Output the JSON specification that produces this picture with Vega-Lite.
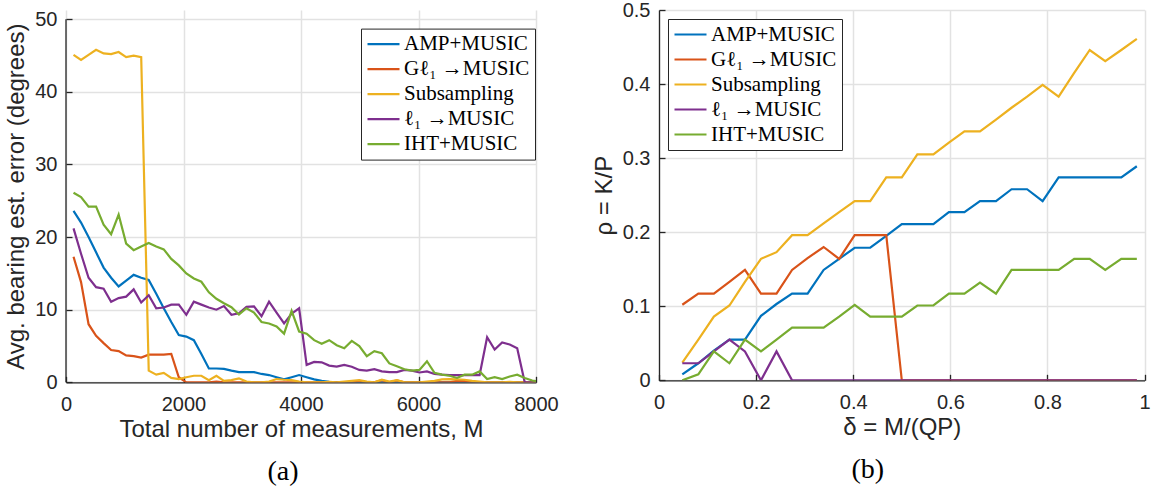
{
  "$schema": "https://vega.github.io/schema/vega-lite/v6.json",
  "background": "white",
  "padding": {"left": 4, "top": 0, "right": 5, "bottom": 2},
  "spacing": 33,
  "config": {
    "view": {"stroke": null},
    "font": "Liberation Sans",
    "axis": {
      "labelFont": "Liberation Sans", "labelFontSize": 20, "labelColor": "#262626",
      "titleFont": "Liberation Sans", "titleFontSize": 24, "titleFontWeight": "normal", "titleColor": "#262626",
      "domainColor": "#262626", "domainWidth": 1.3, "tickColor": "#262626", "tickWidth": 1.3, "tickSize": -6,
      "gridColor": "#e2e2e2", "gridWidth": 1.5, "gridOpacity": 1,
      "labelFlush": false, "labelOverlap": false
    },
    "axisX": {"labelPadding": 18, "titlePadding": 3},
    "axisY": {"labelPadding": 15, "titlePadding": 6},
    "legend": {
      "labelFont": "Liberation Serif", "labelFontSize": 21, "labelColor": "#000000",
      "symbolType": "stroke", "symbolSize": 1024, "symbolStrokeWidth": 2.2, "clipHeight": 21,
      "strokeColor": "#262626", "fillColor": "white", "padding": 5, "rowPadding": 3,
      "labelOffset": 3, "labelLimit": 300, "cornerRadius": 0
    }
  },
  "resolve": {"scale": {"color": "independent"}, "legend": {"color": "independent"}},
  "datasets": {
    "left": [
      {"s":"AMP+MUSIC","M":128,"e":23.6},{"s":"AMP+MUSIC","M":256,"e":22.0},{"s":"AMP+MUSIC","M":384,"e":20.0},{"s":"AMP+MUSIC","M":512,"e":17.9},{"s":"AMP+MUSIC","M":640,"e":15.8},{"s":"AMP+MUSIC","M":768,"e":14.4},{"s":"AMP+MUSIC","M":896,"e":13.2},{"s":"AMP+MUSIC","M":1024,"e":14.0},{"s":"AMP+MUSIC","M":1152,"e":14.8},{"s":"AMP+MUSIC","M":1280,"e":14.4},
      {"s":"AMP+MUSIC","M":1408,"e":14.1},{"s":"AMP+MUSIC","M":1536,"e":12.2},{"s":"AMP+MUSIC","M":1664,"e":10.2},{"s":"AMP+MUSIC","M":1792,"e":8.3},{"s":"AMP+MUSIC","M":1920,"e":6.5},{"s":"AMP+MUSIC","M":2048,"e":6.3},{"s":"AMP+MUSIC","M":2176,"e":5.8},{"s":"AMP+MUSIC","M":2304,"e":3.9},{"s":"AMP+MUSIC","M":2432,"e":1.9},{"s":"AMP+MUSIC","M":2560,"e":1.9},
      {"s":"AMP+MUSIC","M":2688,"e":1.85},{"s":"AMP+MUSIC","M":2816,"e":1.6},{"s":"AMP+MUSIC","M":2944,"e":1.4},{"s":"AMP+MUSIC","M":3072,"e":1.4},{"s":"AMP+MUSIC","M":3200,"e":1.4},{"s":"AMP+MUSIC","M":3328,"e":1.15},{"s":"AMP+MUSIC","M":3456,"e":1.0},{"s":"AMP+MUSIC","M":3584,"e":0.7},{"s":"AMP+MUSIC","M":3712,"e":0.4},{"s":"AMP+MUSIC","M":3840,"e":0.7},
      {"s":"AMP+MUSIC","M":3968,"e":1.0},{"s":"AMP+MUSIC","M":4096,"e":0.7},{"s":"AMP+MUSIC","M":4224,"e":0.4},{"s":"AMP+MUSIC","M":4352,"e":0.2},{"s":"AMP+MUSIC","M":4480,"e":0.05},{"s":"AMP+MUSIC","M":4608,"e":0},{"s":"AMP+MUSIC","M":4736,"e":0},{"s":"AMP+MUSIC","M":4864,"e":0},{"s":"AMP+MUSIC","M":4992,"e":0},{"s":"AMP+MUSIC","M":5120,"e":0},
      {"s":"AMP+MUSIC","M":5248,"e":0},{"s":"AMP+MUSIC","M":5376,"e":0},{"s":"AMP+MUSIC","M":5504,"e":0},{"s":"AMP+MUSIC","M":5632,"e":0},{"s":"AMP+MUSIC","M":5760,"e":0},{"s":"AMP+MUSIC","M":5888,"e":0},{"s":"AMP+MUSIC","M":6016,"e":0},{"s":"AMP+MUSIC","M":6144,"e":0},{"s":"AMP+MUSIC","M":6272,"e":0},{"s":"AMP+MUSIC","M":6400,"e":0},
      {"s":"AMP+MUSIC","M":6528,"e":0},{"s":"AMP+MUSIC","M":6656,"e":0},{"s":"AMP+MUSIC","M":6784,"e":0},{"s":"AMP+MUSIC","M":6912,"e":0},{"s":"AMP+MUSIC","M":7040,"e":0},{"s":"AMP+MUSIC","M":7168,"e":0},{"s":"AMP+MUSIC","M":7296,"e":0},{"s":"AMP+MUSIC","M":7424,"e":0},{"s":"AMP+MUSIC","M":7552,"e":0},{"s":"AMP+MUSIC","M":7680,"e":0},
      {"s":"AMP+MUSIC","M":7808,"e":0},{"s":"AMP+MUSIC","M":7936,"e":0},{"s":"AMP+MUSIC","M":8064,"e":0},

      {"s":"Gℓ₁ →MUSIC","M":128,"e":17.3},{"s":"Gℓ₁ →MUSIC","M":256,"e":13.8},{"s":"Gℓ₁ →MUSIC","M":384,"e":8.0},{"s":"Gℓ₁ →MUSIC","M":512,"e":6.4},{"s":"Gℓ₁ →MUSIC","M":640,"e":5.4},{"s":"Gℓ₁ →MUSIC","M":768,"e":4.45},{"s":"Gℓ₁ →MUSIC","M":896,"e":4.3},{"s":"Gℓ₁ →MUSIC","M":1024,"e":3.7},{"s":"Gℓ₁ →MUSIC","M":1152,"e":3.6},{"s":"Gℓ₁ →MUSIC","M":1280,"e":3.4},
      {"s":"Gℓ₁ →MUSIC","M":1408,"e":3.8},{"s":"Gℓ₁ →MUSIC","M":1536,"e":3.8},{"s":"Gℓ₁ →MUSIC","M":1664,"e":3.8},{"s":"Gℓ₁ →MUSIC","M":1792,"e":3.9},{"s":"Gℓ₁ →MUSIC","M":1920,"e":0.7},{"s":"Gℓ₁ →MUSIC","M":2048,"e":0},{"s":"Gℓ₁ →MUSIC","M":2176,"e":0},{"s":"Gℓ₁ →MUSIC","M":2304,"e":0},{"s":"Gℓ₁ →MUSIC","M":2432,"e":0},{"s":"Gℓ₁ →MUSIC","M":2560,"e":0.1},
      {"s":"Gℓ₁ →MUSIC","M":2688,"e":0},{"s":"Gℓ₁ →MUSIC","M":2816,"e":0},{"s":"Gℓ₁ →MUSIC","M":2944,"e":0},{"s":"Gℓ₁ →MUSIC","M":3072,"e":0},{"s":"Gℓ₁ →MUSIC","M":3200,"e":0},{"s":"Gℓ₁ →MUSIC","M":3328,"e":0},{"s":"Gℓ₁ →MUSIC","M":3456,"e":0},{"s":"Gℓ₁ →MUSIC","M":3584,"e":0},{"s":"Gℓ₁ →MUSIC","M":3712,"e":0},{"s":"Gℓ₁ →MUSIC","M":3840,"e":0},
      {"s":"Gℓ₁ →MUSIC","M":3968,"e":0},{"s":"Gℓ₁ →MUSIC","M":4096,"e":0},{"s":"Gℓ₁ →MUSIC","M":4224,"e":0},{"s":"Gℓ₁ →MUSIC","M":4352,"e":0},{"s":"Gℓ₁ →MUSIC","M":4480,"e":0},{"s":"Gℓ₁ →MUSIC","M":4608,"e":0},{"s":"Gℓ₁ →MUSIC","M":4736,"e":0},{"s":"Gℓ₁ →MUSIC","M":4864,"e":0},{"s":"Gℓ₁ →MUSIC","M":4992,"e":0.2},{"s":"Gℓ₁ →MUSIC","M":5120,"e":0},
      {"s":"Gℓ₁ →MUSIC","M":5248,"e":0},{"s":"Gℓ₁ →MUSIC","M":5376,"e":0.3},{"s":"Gℓ₁ →MUSIC","M":5504,"e":0},{"s":"Gℓ₁ →MUSIC","M":5632,"e":0.25},{"s":"Gℓ₁ →MUSIC","M":5760,"e":0},{"s":"Gℓ₁ →MUSIC","M":5888,"e":0},{"s":"Gℓ₁ →MUSIC","M":6016,"e":0},{"s":"Gℓ₁ →MUSIC","M":6144,"e":0},{"s":"Gℓ₁ →MUSIC","M":6272,"e":0},{"s":"Gℓ₁ →MUSIC","M":6400,"e":0},
      {"s":"Gℓ₁ →MUSIC","M":6528,"e":0},{"s":"Gℓ₁ →MUSIC","M":6656,"e":0.2},{"s":"Gℓ₁ →MUSIC","M":6784,"e":0.15},{"s":"Gℓ₁ →MUSIC","M":6912,"e":0},{"s":"Gℓ₁ →MUSIC","M":7040,"e":0},{"s":"Gℓ₁ →MUSIC","M":7168,"e":0},{"s":"Gℓ₁ →MUSIC","M":7296,"e":0},{"s":"Gℓ₁ →MUSIC","M":7424,"e":0},{"s":"Gℓ₁ →MUSIC","M":7552,"e":0},{"s":"Gℓ₁ →MUSIC","M":7680,"e":0},
      {"s":"Gℓ₁ →MUSIC","M":7808,"e":0},{"s":"Gℓ₁ →MUSIC","M":7936,"e":0},{"s":"Gℓ₁ →MUSIC","M":8064,"e":0},

      {"s":"Subsampling","M":128,"e":45.1},{"s":"Subsampling","M":256,"e":44.4},{"s":"Subsampling","M":384,"e":45.1},{"s":"Subsampling","M":512,"e":45.8},{"s":"Subsampling","M":640,"e":45.3},{"s":"Subsampling","M":768,"e":45.2},{"s":"Subsampling","M":896,"e":45.5},{"s":"Subsampling","M":1024,"e":44.8},{"s":"Subsampling","M":1152,"e":45.0},{"s":"Subsampling","M":1280,"e":44.8},
      {"s":"Subsampling","M":1408,"e":1.6},{"s":"Subsampling","M":1536,"e":1.05},{"s":"Subsampling","M":1664,"e":1.3},{"s":"Subsampling","M":1792,"e":0.6},{"s":"Subsampling","M":1920,"e":0.45},{"s":"Subsampling","M":2048,"e":0.7},{"s":"Subsampling","M":2176,"e":0.9},{"s":"Subsampling","M":2304,"e":0.9},{"s":"Subsampling","M":2432,"e":0.3},{"s":"Subsampling","M":2560,"e":0.9},
      {"s":"Subsampling","M":2688,"e":0.2},{"s":"Subsampling","M":2816,"e":0.3},{"s":"Subsampling","M":2944,"e":0.55},{"s":"Subsampling","M":3072,"e":0.1},{"s":"Subsampling","M":3200,"e":0},{"s":"Subsampling","M":3328,"e":0},{"s":"Subsampling","M":3456,"e":0.1},{"s":"Subsampling","M":3584,"e":0.45},{"s":"Subsampling","M":3712,"e":0.35},{"s":"Subsampling","M":3840,"e":0.3},
      {"s":"Subsampling","M":3968,"e":0.1},{"s":"Subsampling","M":4096,"e":0},{"s":"Subsampling","M":4224,"e":0},{"s":"Subsampling","M":4352,"e":0},{"s":"Subsampling","M":4480,"e":0.05},{"s":"Subsampling","M":4608,"e":0},{"s":"Subsampling","M":4736,"e":0.1},{"s":"Subsampling","M":4864,"e":0.2},{"s":"Subsampling","M":4992,"e":0.3},{"s":"Subsampling","M":5120,"e":0.1},
      {"s":"Subsampling","M":5248,"e":0},{"s":"Subsampling","M":5376,"e":0.35},{"s":"Subsampling","M":5504,"e":0.1},{"s":"Subsampling","M":5632,"e":0.3},{"s":"Subsampling","M":5760,"e":0},{"s":"Subsampling","M":5888,"e":0},{"s":"Subsampling","M":6016,"e":0},{"s":"Subsampling","M":6144,"e":0.1},{"s":"Subsampling","M":6272,"e":0.2},{"s":"Subsampling","M":6400,"e":0.4},
      {"s":"Subsampling","M":6528,"e":0.45},{"s":"Subsampling","M":6656,"e":0.4},{"s":"Subsampling","M":6784,"e":0.35},{"s":"Subsampling","M":6912,"e":0.2},{"s":"Subsampling","M":7040,"e":0.1},{"s":"Subsampling","M":7168,"e":0},{"s":"Subsampling","M":7296,"e":0},{"s":"Subsampling","M":7424,"e":0},{"s":"Subsampling","M":7552,"e":0.05},{"s":"Subsampling","M":7680,"e":0},
      {"s":"Subsampling","M":7808,"e":0},{"s":"Subsampling","M":7936,"e":0},{"s":"Subsampling","M":8064,"e":0},

      {"s":"ℓ₁ →MUSIC","M":128,"e":21.2},{"s":"ℓ₁ →MUSIC","M":256,"e":17.7},{"s":"ℓ₁ →MUSIC","M":384,"e":14.4},{"s":"ℓ₁ →MUSIC","M":512,"e":13.1},{"s":"ℓ₁ →MUSIC","M":640,"e":12.9},{"s":"ℓ₁ →MUSIC","M":768,"e":11.1},{"s":"ℓ₁ →MUSIC","M":896,"e":11.6},{"s":"ℓ₁ →MUSIC","M":1024,"e":11.8},{"s":"ℓ₁ →MUSIC","M":1152,"e":12.8},{"s":"ℓ₁ →MUSIC","M":1280,"e":11.0},
      {"s":"ℓ₁ →MUSIC","M":1408,"e":12.0},{"s":"ℓ₁ →MUSIC","M":1536,"e":10.2},{"s":"ℓ₁ →MUSIC","M":1664,"e":10.3},{"s":"ℓ₁ →MUSIC","M":1792,"e":10.7},{"s":"ℓ₁ →MUSIC","M":1920,"e":10.7},{"s":"ℓ₁ →MUSIC","M":2048,"e":9.3},{"s":"ℓ₁ →MUSIC","M":2176,"e":11.1},{"s":"ℓ₁ →MUSIC","M":2304,"e":10.7},{"s":"ℓ₁ →MUSIC","M":2432,"e":10.3},{"s":"ℓ₁ →MUSIC","M":2560,"e":10.0},
      {"s":"ℓ₁ →MUSIC","M":2688,"e":10.5},{"s":"ℓ₁ →MUSIC","M":2816,"e":9.3},{"s":"ℓ₁ →MUSIC","M":2944,"e":9.5},{"s":"ℓ₁ →MUSIC","M":3072,"e":10.4},{"s":"ℓ₁ →MUSIC","M":3200,"e":10.45},{"s":"ℓ₁ →MUSIC","M":3328,"e":9.1},{"s":"ℓ₁ →MUSIC","M":3456,"e":11.1},{"s":"ℓ₁ →MUSIC","M":3584,"e":9.6},{"s":"ℓ₁ →MUSIC","M":3712,"e":8.1},{"s":"ℓ₁ →MUSIC","M":3840,"e":9.45},
      {"s":"ℓ₁ →MUSIC","M":3968,"e":10.2},{"s":"ℓ₁ →MUSIC","M":4096,"e":2.4},{"s":"ℓ₁ →MUSIC","M":4224,"e":2.8},{"s":"ℓ₁ →MUSIC","M":4352,"e":2.75},{"s":"ℓ₁ →MUSIC","M":4480,"e":2.3},{"s":"ℓ₁ →MUSIC","M":4608,"e":2.15},{"s":"ℓ₁ →MUSIC","M":4736,"e":2.4},{"s":"ℓ₁ →MUSIC","M":4864,"e":2.15},{"s":"ℓ₁ →MUSIC","M":4992,"e":1.7},{"s":"ℓ₁ →MUSIC","M":5120,"e":1.6},
      {"s":"ℓ₁ →MUSIC","M":5248,"e":1.8},{"s":"ℓ₁ →MUSIC","M":5376,"e":1.5},{"s":"ℓ₁ →MUSIC","M":5504,"e":1.4},{"s":"ℓ₁ →MUSIC","M":5632,"e":1.4},{"s":"ℓ₁ →MUSIC","M":5760,"e":1.7},{"s":"ℓ₁ →MUSIC","M":5888,"e":1.6},{"s":"ℓ₁ →MUSIC","M":6016,"e":1.35},{"s":"ℓ₁ →MUSIC","M":6144,"e":1.5},{"s":"ℓ₁ →MUSIC","M":6272,"e":1.15},{"s":"ℓ₁ →MUSIC","M":6400,"e":1.05},
      {"s":"ℓ₁ →MUSIC","M":6528,"e":1.0},{"s":"ℓ₁ →MUSIC","M":6656,"e":1.0},{"s":"ℓ₁ →MUSIC","M":6784,"e":1.0},{"s":"ℓ₁ →MUSIC","M":6912,"e":1.0},{"s":"ℓ₁ →MUSIC","M":7040,"e":1.0},{"s":"ℓ₁ →MUSIC","M":7168,"e":6.2},{"s":"ℓ₁ →MUSIC","M":7296,"e":4.5},{"s":"ℓ₁ →MUSIC","M":7424,"e":5.5},{"s":"ℓ₁ →MUSIC","M":7552,"e":5.2},{"s":"ℓ₁ →MUSIC","M":7680,"e":4.7},
      {"s":"ℓ₁ →MUSIC","M":7808,"e":0},{"s":"ℓ₁ →MUSIC","M":7936,"e":0},{"s":"ℓ₁ →MUSIC","M":8064,"e":0},

      {"s":"IHT+MUSIC","M":128,"e":26.1},{"s":"IHT+MUSIC","M":256,"e":25.5},{"s":"IHT+MUSIC","M":384,"e":24.2},{"s":"IHT+MUSIC","M":512,"e":24.2},{"s":"IHT+MUSIC","M":640,"e":21.7},{"s":"IHT+MUSIC","M":768,"e":20.4},{"s":"IHT+MUSIC","M":896,"e":23.1},{"s":"IHT+MUSIC","M":1024,"e":19.1},{"s":"IHT+MUSIC","M":1152,"e":18.2},{"s":"IHT+MUSIC","M":1280,"e":18.7},
      {"s":"IHT+MUSIC","M":1408,"e":19.2},{"s":"IHT+MUSIC","M":1536,"e":18.7},{"s":"IHT+MUSIC","M":1664,"e":18.3},{"s":"IHT+MUSIC","M":1792,"e":17.0},{"s":"IHT+MUSIC","M":1920,"e":16.1},{"s":"IHT+MUSIC","M":2048,"e":15.0},{"s":"IHT+MUSIC","M":2176,"e":14.3},{"s":"IHT+MUSIC","M":2304,"e":13.85},{"s":"IHT+MUSIC","M":2432,"e":12.4},{"s":"IHT+MUSIC","M":2560,"e":11.5},
      {"s":"IHT+MUSIC","M":2688,"e":10.9},{"s":"IHT+MUSIC","M":2816,"e":10.35},{"s":"IHT+MUSIC","M":2944,"e":9.35},{"s":"IHT+MUSIC","M":3072,"e":10.2},{"s":"IHT+MUSIC","M":3200,"e":9.6},{"s":"IHT+MUSIC","M":3328,"e":8.3},{"s":"IHT+MUSIC","M":3456,"e":8.1},{"s":"IHT+MUSIC","M":3584,"e":7.7},{"s":"IHT+MUSIC","M":3712,"e":6.7},{"s":"IHT+MUSIC","M":3840,"e":9.85},
      {"s":"IHT+MUSIC","M":3968,"e":7.0},{"s":"IHT+MUSIC","M":4096,"e":6.7},{"s":"IHT+MUSIC","M":4224,"e":5.8},{"s":"IHT+MUSIC","M":4352,"e":5.3},{"s":"IHT+MUSIC","M":4480,"e":5.8},{"s":"IHT+MUSIC","M":4608,"e":5.1},{"s":"IHT+MUSIC","M":4736,"e":4.7},{"s":"IHT+MUSIC","M":4864,"e":5.7},{"s":"IHT+MUSIC","M":4992,"e":5.0},{"s":"IHT+MUSIC","M":5120,"e":3.6},
      {"s":"IHT+MUSIC","M":5248,"e":4.3},{"s":"IHT+MUSIC","M":5376,"e":4.0},{"s":"IHT+MUSIC","M":5504,"e":2.6},{"s":"IHT+MUSIC","M":5632,"e":2.2},{"s":"IHT+MUSIC","M":5760,"e":1.8},{"s":"IHT+MUSIC","M":5888,"e":1.6},{"s":"IHT+MUSIC","M":6016,"e":1.7},{"s":"IHT+MUSIC","M":6144,"e":2.9},{"s":"IHT+MUSIC","M":6272,"e":1.3},{"s":"IHT+MUSIC","M":6400,"e":1.05},
      {"s":"IHT+MUSIC","M":6528,"e":0.9},{"s":"IHT+MUSIC","M":6656,"e":0.6},{"s":"IHT+MUSIC","M":6784,"e":1.05},{"s":"IHT+MUSIC","M":6912,"e":1.05},{"s":"IHT+MUSIC","M":7040,"e":1.5},{"s":"IHT+MUSIC","M":7168,"e":0.45},{"s":"IHT+MUSIC","M":7296,"e":0.7},{"s":"IHT+MUSIC","M":7424,"e":0.45},{"s":"IHT+MUSIC","M":7552,"e":0.8},{"s":"IHT+MUSIC","M":7680,"e":1.05},
      {"s":"IHT+MUSIC","M":7808,"e":0.6},{"s":"IHT+MUSIC","M":7936,"e":0.25},{"s":"IHT+MUSIC","M":8064,"e":0.1}
    ],
    "right": [
      {"s":"AMP+MUSIC","d":0.048,"r":0.008},{"s":"AMP+MUSIC","d":0.081,"r":0.023},{"s":"AMP+MUSIC","d":0.113,"r":0.040},{"s":"AMP+MUSIC","d":0.145,"r":0.055},{"s":"AMP+MUSIC","d":0.177,"r":0.055},{"s":"AMP+MUSIC","d":0.210,"r":0.087},{"s":"AMP+MUSIC","d":0.242,"r":0.103},{"s":"AMP+MUSIC","d":0.274,"r":0.117},{"s":"AMP+MUSIC","d":0.306,"r":0.117},{"s":"AMP+MUSIC","d":0.339,"r":0.149},
      {"s":"AMP+MUSIC","d":0.371,"r":0.164},{"s":"AMP+MUSIC","d":0.403,"r":0.179},{"s":"AMP+MUSIC","d":0.435,"r":0.179},{"s":"AMP+MUSIC","d":0.468,"r":0.195},{"s":"AMP+MUSIC","d":0.500,"r":0.211},{"s":"AMP+MUSIC","d":0.532,"r":0.211},{"s":"AMP+MUSIC","d":0.565,"r":0.211},{"s":"AMP+MUSIC","d":0.597,"r":0.227},{"s":"AMP+MUSIC","d":0.629,"r":0.227},{"s":"AMP+MUSIC","d":0.661,"r":0.242},
      {"s":"AMP+MUSIC","d":0.694,"r":0.242},{"s":"AMP+MUSIC","d":0.726,"r":0.258},{"s":"AMP+MUSIC","d":0.758,"r":0.258},{"s":"AMP+MUSIC","d":0.790,"r":0.242},{"s":"AMP+MUSIC","d":0.823,"r":0.274},{"s":"AMP+MUSIC","d":0.855,"r":0.274},{"s":"AMP+MUSIC","d":0.887,"r":0.274},{"s":"AMP+MUSIC","d":0.919,"r":0.274},{"s":"AMP+MUSIC","d":0.952,"r":0.274},{"s":"AMP+MUSIC","d":0.984,"r":0.289},

      {"s":"Gℓ₁ →MUSIC","d":0.048,"r":0.102},{"s":"Gℓ₁ →MUSIC","d":0.081,"r":0.117},{"s":"Gℓ₁ →MUSIC","d":0.113,"r":0.117},{"s":"Gℓ₁ →MUSIC","d":0.145,"r":0.133},{"s":"Gℓ₁ →MUSIC","d":0.177,"r":0.149},{"s":"Gℓ₁ →MUSIC","d":0.210,"r":0.117},{"s":"Gℓ₁ →MUSIC","d":0.242,"r":0.117},{"s":"Gℓ₁ →MUSIC","d":0.274,"r":0.149},{"s":"Gℓ₁ →MUSIC","d":0.306,"r":0.165},{"s":"Gℓ₁ →MUSIC","d":0.339,"r":0.180},
      {"s":"Gℓ₁ →MUSIC","d":0.371,"r":0.164},{"s":"Gℓ₁ →MUSIC","d":0.403,"r":0.196},{"s":"Gℓ₁ →MUSIC","d":0.435,"r":0.196},{"s":"Gℓ₁ →MUSIC","d":0.468,"r":0.196},{"s":"Gℓ₁ →MUSIC","d":0.500,"r":0},{"s":"Gℓ₁ →MUSIC","d":0.532,"r":0},{"s":"Gℓ₁ →MUSIC","d":0.565,"r":0},{"s":"Gℓ₁ →MUSIC","d":0.597,"r":0},{"s":"Gℓ₁ →MUSIC","d":0.629,"r":0},{"s":"Gℓ₁ →MUSIC","d":0.661,"r":0},
      {"s":"Gℓ₁ →MUSIC","d":0.694,"r":0},{"s":"Gℓ₁ →MUSIC","d":0.726,"r":0},{"s":"Gℓ₁ →MUSIC","d":0.758,"r":0},{"s":"Gℓ₁ →MUSIC","d":0.790,"r":0},{"s":"Gℓ₁ →MUSIC","d":0.823,"r":0},{"s":"Gℓ₁ →MUSIC","d":0.855,"r":0},{"s":"Gℓ₁ →MUSIC","d":0.887,"r":0},{"s":"Gℓ₁ →MUSIC","d":0.919,"r":0},{"s":"Gℓ₁ →MUSIC","d":0.952,"r":0},{"s":"Gℓ₁ →MUSIC","d":0.984,"r":0},

      {"s":"Subsampling","d":0.048,"r":0.024},{"s":"Subsampling","d":0.081,"r":0.055},{"s":"Subsampling","d":0.113,"r":0.086},{"s":"Subsampling","d":0.145,"r":0.101},{"s":"Subsampling","d":0.177,"r":0.133},{"s":"Subsampling","d":0.210,"r":0.164},{"s":"Subsampling","d":0.242,"r":0.173},{"s":"Subsampling","d":0.274,"r":0.196},{"s":"Subsampling","d":0.306,"r":0.196},{"s":"Subsampling","d":0.339,"r":0.212},
      {"s":"Subsampling","d":0.371,"r":0.227},{"s":"Subsampling","d":0.403,"r":0.242},{"s":"Subsampling","d":0.435,"r":0.242},{"s":"Subsampling","d":0.468,"r":0.274},{"s":"Subsampling","d":0.500,"r":0.274},{"s":"Subsampling","d":0.532,"r":0.305},{"s":"Subsampling","d":0.565,"r":0.305},{"s":"Subsampling","d":0.597,"r":0.321},{"s":"Subsampling","d":0.629,"r":0.336},{"s":"Subsampling","d":0.661,"r":0.336},
      {"s":"Subsampling","d":0.694,"r":0.352},{"s":"Subsampling","d":0.726,"r":0.368},{"s":"Subsampling","d":0.758,"r":0.383},{"s":"Subsampling","d":0.790,"r":0.399},{"s":"Subsampling","d":0.823,"r":0.383},{"s":"Subsampling","d":0.855,"r":0.415},{"s":"Subsampling","d":0.887,"r":0.446},{"s":"Subsampling","d":0.919,"r":0.431},{"s":"Subsampling","d":0.952,"r":0.446},{"s":"Subsampling","d":0.984,"r":0.461},

      {"s":"ℓ₁ →MUSIC","d":0.048,"r":0.023},{"s":"ℓ₁ →MUSIC","d":0.081,"r":0.023},{"s":"ℓ₁ →MUSIC","d":0.113,"r":0.039},{"s":"ℓ₁ →MUSIC","d":0.145,"r":0.055},{"s":"ℓ₁ →MUSIC","d":0.177,"r":0.039},{"s":"ℓ₁ →MUSIC","d":0.210,"r":0},{"s":"ℓ₁ →MUSIC","d":0.242,"r":0.039},{"s":"ℓ₁ →MUSIC","d":0.274,"r":0},{"s":"ℓ₁ →MUSIC","d":0.306,"r":0},{"s":"ℓ₁ →MUSIC","d":0.339,"r":0},
      {"s":"ℓ₁ →MUSIC","d":0.371,"r":0},{"s":"ℓ₁ →MUSIC","d":0.403,"r":0},{"s":"ℓ₁ →MUSIC","d":0.435,"r":0},{"s":"ℓ₁ →MUSIC","d":0.468,"r":0},{"s":"ℓ₁ →MUSIC","d":0.500,"r":0},{"s":"ℓ₁ →MUSIC","d":0.532,"r":0},{"s":"ℓ₁ →MUSIC","d":0.565,"r":0},{"s":"ℓ₁ →MUSIC","d":0.597,"r":0},{"s":"ℓ₁ →MUSIC","d":0.629,"r":0},{"s":"ℓ₁ →MUSIC","d":0.661,"r":0},
      {"s":"ℓ₁ →MUSIC","d":0.694,"r":0},{"s":"ℓ₁ →MUSIC","d":0.726,"r":0},{"s":"ℓ₁ →MUSIC","d":0.758,"r":0},{"s":"ℓ₁ →MUSIC","d":0.790,"r":0},{"s":"ℓ₁ →MUSIC","d":0.823,"r":0},{"s":"ℓ₁ →MUSIC","d":0.855,"r":0},{"s":"ℓ₁ →MUSIC","d":0.887,"r":0},{"s":"ℓ₁ →MUSIC","d":0.919,"r":0},{"s":"ℓ₁ →MUSIC","d":0.952,"r":0},{"s":"ℓ₁ →MUSIC","d":0.984,"r":0},

      {"s":"IHT+MUSIC","d":0.048,"r":0},{"s":"IHT+MUSIC","d":0.081,"r":0.008},{"s":"IHT+MUSIC","d":0.113,"r":0.039},{"s":"IHT+MUSIC","d":0.145,"r":0.023},{"s":"IHT+MUSIC","d":0.177,"r":0.055},{"s":"IHT+MUSIC","d":0.210,"r":0.039},{"s":"IHT+MUSIC","d":0.242,"r":0.055},{"s":"IHT+MUSIC","d":0.274,"r":0.071},{"s":"IHT+MUSIC","d":0.306,"r":0.071},{"s":"IHT+MUSIC","d":0.339,"r":0.071},
      {"s":"IHT+MUSIC","d":0.371,"r":0.086},{"s":"IHT+MUSIC","d":0.403,"r":0.102},{"s":"IHT+MUSIC","d":0.435,"r":0.086},{"s":"IHT+MUSIC","d":0.468,"r":0.086},{"s":"IHT+MUSIC","d":0.500,"r":0.086},{"s":"IHT+MUSIC","d":0.532,"r":0.101},{"s":"IHT+MUSIC","d":0.565,"r":0.101},{"s":"IHT+MUSIC","d":0.597,"r":0.117},{"s":"IHT+MUSIC","d":0.629,"r":0.117},{"s":"IHT+MUSIC","d":0.661,"r":0.132},
      {"s":"IHT+MUSIC","d":0.694,"r":0.117},{"s":"IHT+MUSIC","d":0.726,"r":0.149},{"s":"IHT+MUSIC","d":0.758,"r":0.149},{"s":"IHT+MUSIC","d":0.790,"r":0.149},{"s":"IHT+MUSIC","d":0.823,"r":0.149},{"s":"IHT+MUSIC","d":0.855,"r":0.164},{"s":"IHT+MUSIC","d":0.887,"r":0.164},{"s":"IHT+MUSIC","d":0.919,"r":0.149},{"s":"IHT+MUSIC","d":0.952,"r":0.164},{"s":"IHT+MUSIC","d":0.984,"r":0.164}
    ]
  },
  "hconcat": [
    {
      "width": 470,
      "height": 372.3,
      "title": {"text": "(a)", "orient": "bottom", "anchor": "middle", "frame": "group", "font": "Liberation Serif", "fontSize": 28, "fontWeight": "normal", "color": "#000000", "offset": 17, "dx": -18},
      "layer": [
        {
          "data": {"name": "left"},
          "mark": {"type": "line", "strokeWidth": 2.2, "clip": true},
          "encoding": {
            "x": {"field": "M", "type": "quantitative", "scale": {"domain": [0, 8000], "nice": false}, "axis": {"values": [0, 2000, 4000, 6000, 8000], "format": "d", "title": "Total number of measurements, M"}},
            "y": {"field": "e", "type": "quantitative", "scale": {"domain": [0, 51.28], "nice": false}, "axis": {"values": [0, 10, 20, 30, 40, 50], "format": "d", "domain": false, "title": "Avg. bearing est. error (degrees)"}},
            "color": {"field": "s", "type": "nominal", "sort": null,
              "scale": {"domain": ["AMP+MUSIC", "Gℓ₁ →MUSIC", "Subsampling", "ℓ₁ →MUSIC", "IHT+MUSIC"], "range": ["#0072BD", "#D95319", "#EDB120", "#7E2F8E", "#77AC30"]},
              "legend": {"title": null, "orient": "none", "legendX": 295, "legendY": 18.6}}
          }
        },
        {
          "data": {"values": [{}]},
          "mark": {"type": "rule", "color": "#262626", "strokeWidth": 1.3},
          "encoding": {"x": {"datum": 0}, "y": {"datum": 0}, "y2": {"datum": 50}}
        }
      ]
    },
    {
      "width": 485.6,
      "height": 370.3,
      "data": {"name": "right"},
      "title": {"text": "(b)", "orient": "bottom", "anchor": "middle", "frame": "group", "font": "Liberation Serif", "fontSize": 28, "fontWeight": "normal", "color": "#000000", "offset": 17, "dx": -34},
      "mark": {"type": "line", "strokeWidth": 2.2, "clip": true},
      "encoding": {
        "x": {"field": "d", "type": "quantitative", "scale": {"domain": [0, 1], "nice": false}, "axis": {"values": [0, 0.2, 0.4, 0.6, 0.8, 1], "format": "~g", "title": "δ = M/(QP)"}},
        "y": {"field": "r", "type": "quantitative", "scale": {"domain": [0, 0.5], "nice": false}, "axis": {"values": [0, 0.1, 0.2, 0.3, 0.4, 0.5], "format": "~g", "title": "ρ = K/P"}},
        "color": {"field": "s", "type": "nominal", "sort": null,
          "scale": {"domain": ["AMP+MUSIC", "Gℓ₁ →MUSIC", "Subsampling", "ℓ₁ →MUSIC", "IHT+MUSIC"], "range": ["#0072BD", "#D95319", "#EDB120", "#7E2F8E", "#77AC30"]},
          "legend": {"title": null, "orient": "top-left", "offset": 9}}
      }
    }
  ]
}
